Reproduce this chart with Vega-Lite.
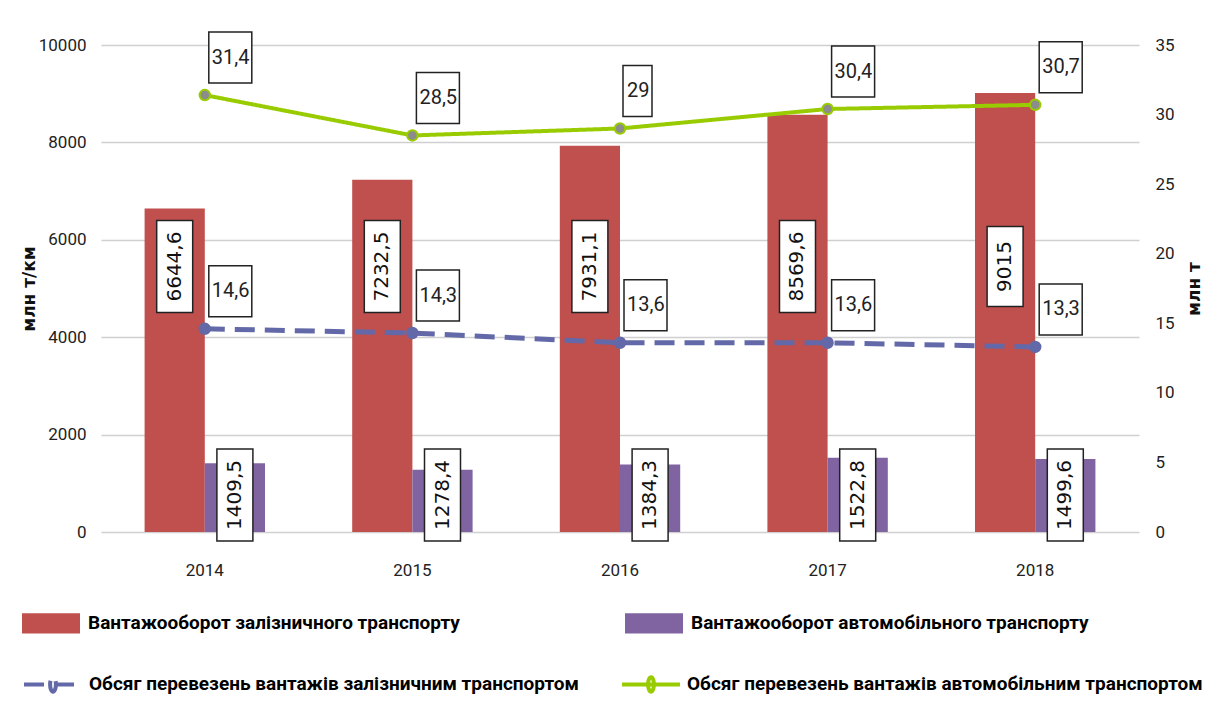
{
  "$schema": "https://vega.github.io/schema/vega-lite/v6.json",
  "width": 1038,
  "height": 487,
  "autosize": {"type": "none"},
  "padding": {"left": 101, "top": 45, "right": 88, "bottom": 181},
  "background": "white",
  "config": {
    "view": {"stroke": null},
    "locale": {"number": {"decimal": ",", "thousands": "", "grouping": [3], "currency": ["", ""]}},
    "font": "Roboto"
  },
  "datasets": {
    "bars": [
      {"year": "2014", "series": "Вантажооборот залізничного транспорту", "value": 6644.6},
      {"year": "2015", "series": "Вантажооборот залізничного транспорту", "value": 7232.5},
      {"year": "2016", "series": "Вантажооборот залізничного транспорту", "value": 7931.1},
      {"year": "2017", "series": "Вантажооборот залізничного транспорту", "value": 8569.6},
      {"year": "2018", "series": "Вантажооборот залізничного транспорту", "value": 9015},
      {"year": "2014", "series": "Вантажооборот автомобільного транспорту", "value": 1409.5},
      {"year": "2015", "series": "Вантажооборот автомобільного транспорту", "value": 1278.4},
      {"year": "2016", "series": "Вантажооборот автомобільного транспорту", "value": 1384.3},
      {"year": "2017", "series": "Вантажооборот автомобільного транспорту", "value": 1522.8},
      {"year": "2018", "series": "Вантажооборот автомобільного транспорту", "value": 1499.6}
    ],
    "lines": [
      {"year": "2014", "series": "Обсяг перевезень вантажів залізничним  транспортом", "value": 14.6},
      {"year": "2015", "series": "Обсяг перевезень вантажів залізничним  транспортом", "value": 14.3},
      {"year": "2016", "series": "Обсяг перевезень вантажів залізничним  транспортом", "value": 13.6},
      {"year": "2017", "series": "Обсяг перевезень вантажів залізничним  транспортом", "value": 13.6},
      {"year": "2018", "series": "Обсяг перевезень вантажів залізничним  транспортом", "value": 13.3},
      {"year": "2014", "series": "Обсяг перевезень вантажів автомобільним транспортом", "value": 31.4},
      {"year": "2015", "series": "Обсяг перевезень вантажів автомобільним транспортом", "value": 28.5},
      {"year": "2016", "series": "Обсяг перевезень вантажів автомобільним транспортом", "value": 29},
      {"year": "2017", "series": "Обсяг перевезень вантажів автомобільним транспортом", "value": 30.4},
      {"year": "2018", "series": "Обсяг перевезень вантажів автомобільним транспортом", "value": 30.7}
    ]
  },
  "encoding": {
    "x": {
      "field": "year", "type": "nominal",
      "scale": {"paddingInner": 0.42, "paddingOuter": 0.21},
      "axis": {"title": null, "labelAngle": 0, "labelFont": "Roboto", "labelFontSize": 17, "labelPadding": 30, "ticks": false, "domain": false, "grid": false, "labelColor": "#222"}
    }
  },
  "layer": [
    {
      "data": {"name": "bars"},
      "layer": [
        {
          "mark": {"type": "bar"},
          "encoding": {
            "xOffset": {"field": "series", "type": "nominal", "scale": {"domain": ["Вантажооборот залізничного транспорту", "Вантажооборот автомобільного транспорту"], "paddingInner": 0, "paddingOuter": 0}},
            "y": {
              "field": "value", "type": "quantitative",
              "scale": {"domain": [0, 10000]},
              "axis": {"values": [0, 2000, 4000, 6000, 8000, 10000], "format": "d", "title": "млн т/км", "titleFont": "DejaVu Sans", "titleFontSize": 17, "titleFontWeight": "bold", "titlePadding": 0, "titleColor": "#111", "labelFont": "Roboto", "labelFontSize": 17, "labelPadding": 15, "ticks": false, "domain": false, "grid": true, "gridColor": "#D0D0D0", "gridWidth": 1.5, "labelColor": "#222"}
            },
            "color": {
              "field": "series", "type": "nominal",
              "scale": {"domain": ["Вантажооборот залізничного транспорту", "Вантажооборот автомобільного транспорту"], "range": ["#C0504D", "#8064A2"]},
              "legend": {"title": null, "orient": "none", "legendX": -79, "legendY": 549, "direction": "horizontal", "columns": 2, "columnPadding": 165, "symbolType": "M-1,-0.35L1,-0.35L1,0.35L-1,0.35Z", "symbolSize": 3364, "symbolStrokeWidth": 0, "labelFont": "Roboto", "labelFontSize": 19, "labelFontWeight": "bold", "labelColor": "#000", "labelOffset": 8, "labelLimit": 800}
            }
          }
        },
        {
          "transform": [{"filter": "datum.series == 'Вантажооборот залізничного транспорту'"}],
          "mark": {"type": "point", "filled": true, "fill": "white", "stroke": "#222", "strokeWidth": 1.5, "opacity": 1, "size": 10000},
          "encoding": {
            "xOffset": {"field": "series", "type": "nominal"},
            "y": {"datum": 5450, "type": "quantitative"},
            "shape": {"condition": {"test": "datum.year == '2018'", "value": "M-0.36,-0.8L0.36,-0.8L0.36,0.8L-0.36,0.8Z"}, "value": "M-0.36,-0.92L0.36,-0.92L0.36,0.92L-0.36,0.92Z"}
          }
        },
        {
          "transform": [{"filter": "datum.series == 'Вантажооборот залізничного транспорту'"}],
          "mark": {"type": "text", "angle": 270, "font": "DejaVu Sans", "fontSize": 20, "baseline": "middle", "align": "center", "color": "#111"},
          "encoding": {
            "xOffset": {"field": "series", "type": "nominal"},
            "y": {"datum": 5450, "type": "quantitative"},
            "text": {"field": "value", "type": "quantitative", "format": ".1~f"}
          }
        },
        {
          "transform": [{"filter": "datum.series == 'Вантажооборот автомобільного транспорту'"}],
          "mark": {"type": "point", "filled": true, "fill": "white", "stroke": "#222", "strokeWidth": 1.5, "opacity": 1, "size": 10000, "shape": "M-0.36,-0.92L0.36,-0.92L0.36,0.92L-0.36,0.92Z"},
          "encoding": {
            "xOffset": {"field": "series", "type": "nominal"},
            "y": {"datum": 760, "type": "quantitative"}
          }
        },
        {
          "transform": [{"filter": "datum.series == 'Вантажооборот автомобільного транспорту'"}],
          "mark": {"type": "text", "angle": 270, "font": "DejaVu Sans", "fontSize": 20, "baseline": "middle", "align": "center", "color": "#111"},
          "encoding": {
            "xOffset": {"field": "series", "type": "nominal"},
            "y": {"datum": 760, "type": "quantitative"},
            "text": {"field": "value", "type": "quantitative", "format": ".1~f"}
          }
        }
      ]
    },
    {
      "data": {"name": "lines"},
      "encoding": {
        "y": {
          "field": "value", "type": "quantitative",
          "scale": {"domain": [0, 35]},
          "axis": {"orient": "right", "values": [0, 5, 10, 15, 20, 25, 30, 35], "title": "млн т", "titleAngle": 270, "titleFont": "DejaVu Sans", "titleFontSize": 17, "titleFontWeight": "bold", "titlePadding": 29, "titleColor": "#111", "labelFont": "Roboto", "labelFontSize": 17, "labelPadding": 16, "ticks": false, "domain": false, "grid": false, "labelColor": "#222"}
        }
      },
      "layer": [
        {
          "mark": {"type": "line", "strokeCap": "butt"},
          "encoding": {
            "stroke": {
              "field": "series", "type": "nominal",
              "scale": {"domain": ["Обсяг перевезень вантажів залізничним  транспортом", "Обсяг перевезень вантажів автомобільним транспортом"], "range": ["#6369A8", "#99CC00"]},
              "legend": {"title": null, "orient": "none", "legendX": -79, "legendY": 608, "direction": "horizontal", "columns": 2, "columnPadding": 30, "symbolType": "M-1,0L1,0M0.1,0A0.1,0.25 0 1,1 -0.1,0A0.1,0.25 0 1,1 0.1,0", "symbolSize": 3364, "symbolStrokeWidth": 4, "labelFont": "Roboto", "labelFontSize": 19, "labelFontWeight": "bold", "labelColor": "#000", "labelOffset": 5, "labelLimit": 800}
            },
            "strokeDash": {
              "field": "series", "type": "nominal",
              "scale": {"domain": ["Обсяг перевезень вантажів залізничним  транспортом", "Обсяг перевезень вантажів автомобільним транспортом"], "range": [[20, 10], [1, 0]]},
              "legend": {"title": null, "orient": "none", "legendX": -79, "legendY": 608, "direction": "horizontal", "columns": 2, "columnPadding": 30, "symbolType": "M-1,0L1,0M0.1,0A0.1,0.25 0 1,1 -0.1,0A0.1,0.25 0 1,1 0.1,0", "symbolSize": 3364, "symbolStrokeWidth": 4, "labelFont": "Roboto", "labelFontSize": 19, "labelFontWeight": "bold", "labelColor": "#000", "labelOffset": 5, "labelLimit": 800}
            },
            "strokeWidth": {"condition": {"test": "datum.series == 'Обсяг перевезень вантажів залізничним  транспортом'", "value": 5}, "value": 4}
          }
        },
        {
          "mark": {"type": "point", "filled": true, "size": 110, "strokeWidth": 2, "opacity": 1},
          "encoding": {
            "fill": {"condition": {"test": "datum.series == 'Обсяг перевезень вантажів автомобільним транспортом'", "value": "#8C8C8C"}, "value": "#6369A8"},
            "stroke": {"condition": {"test": "datum.series == 'Обсяг перевезень вантажів автомобільним транспортом'", "value": "#99CC00"}, "value": "#6369A8"}
          }
        },
        {
          "mark": {"type": "point", "filled": true, "fill": "white", "stroke": "#222", "strokeWidth": 1.5, "opacity": 1, "size": 10000},
          "encoding": {
            "shape": {"condition": {"test": "datum.value == 29", "value": "M0.06,-1.26L0.64,-1.26L0.64,-0.24L0.06,-0.24Z"}, "value": "M0.08,-1.26L0.94,-1.26L0.94,-0.24L0.08,-0.24Z"}
          }
        },
        {
          "mark": {"type": "text", "font": "Roboto", "fontSize": 20, "baseline": "middle", "align": "left", "dx": 7, "dy": -37.5, "color": "#222"},
          "encoding": {
            "text": {"field": "value", "type": "quantitative", "format": ".1~f"}
          }
        }
      ]
    }
  ],
  "resolve": {"scale": {"y": "independent"}}
}
